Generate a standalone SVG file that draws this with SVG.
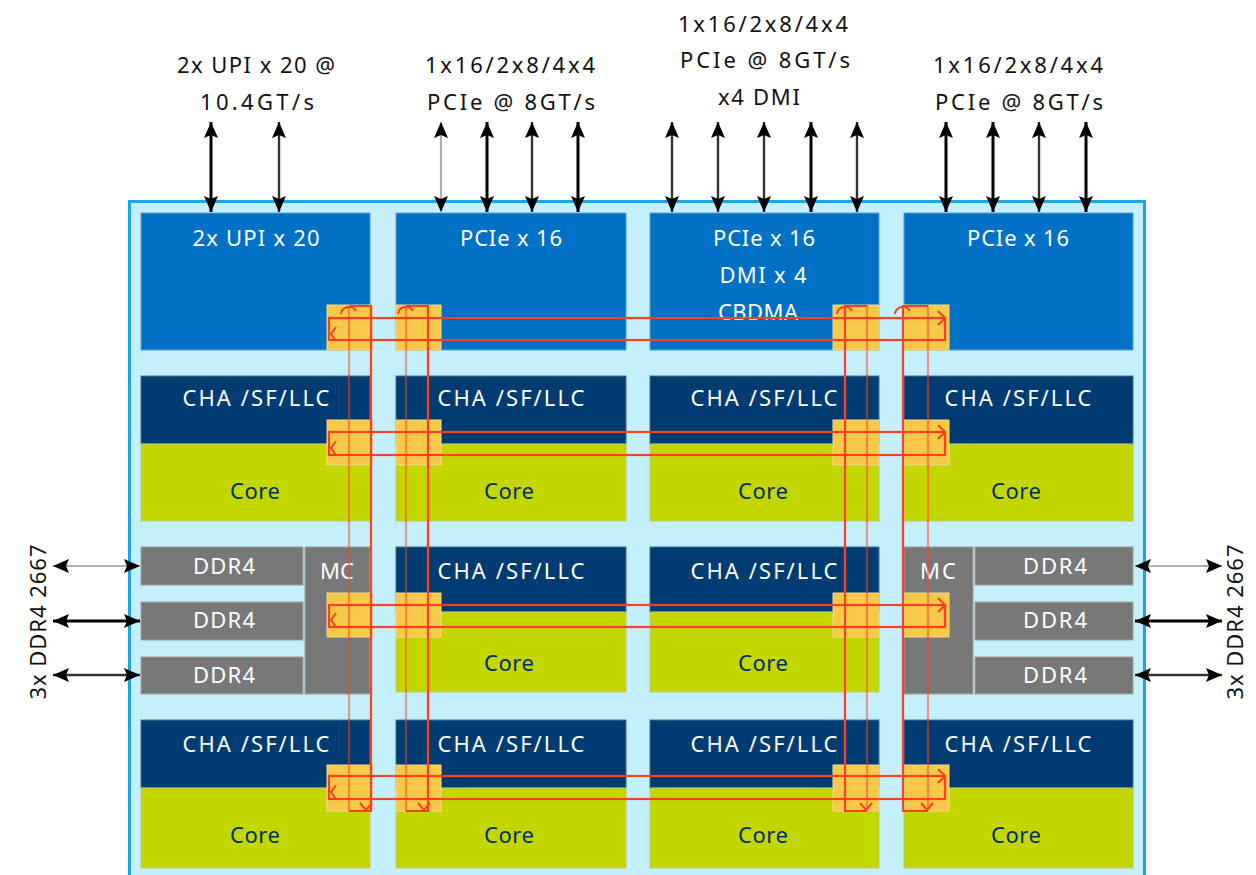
<svg xmlns="http://www.w3.org/2000/svg" width="1256" height="875" viewBox="0 0 1256 875">
<defs>
<marker id="ah" viewBox="0 0 16 14" refX="16" refY="7" markerWidth="16" markerHeight="14" markerUnits="userSpaceOnUse" orient="auto-start-reverse">
<path d="M0,0 L16,7 L0,14 L3,7 z" fill="#000"/>
</marker>
</defs>
<style>
.io{fill:#0071c5;stroke:#5a9fd6;stroke-width:1}
.cha{fill:#003c71;stroke:#4a6f96;stroke-width:1}
.core{fill:#c4d600;stroke:#b8cc70;stroke-width:1}
.gray{fill:#787878;stroke:#a0a0a0;stroke-width:1}
.stop{fill:#f7c948;stroke:#f3d98a;stroke-width:1}
text{font-family:"Noto Sans","Open Sans",sans-serif;text-anchor:middle}
.wt{fill:#ffffff;font-size:22px}
.nt{fill:#002f5f;font-size:22px}
.lab{fill:#111111;font-size:22px}
.ring{fill:none;stroke:#ff3f1f;stroke-width:2.2}
.faint{stroke-opacity:0.5}
.chev{fill:none;stroke:#ff3f1f;stroke-width:2}
.arr{fill:none;stroke:#000;stroke-width:3;marker-start:url(#ah);marker-end:url(#ah)}
.arr2{fill:none;stroke:#333;stroke-width:2.4;marker-start:url(#ah);marker-end:url(#ah)}
.arr3{fill:none;stroke:#b0b0b0;stroke-width:2.2;marker-start:url(#ah);marker-end:url(#ah)}
</style>

<g id="die">
<rect x="129.5" y="201.5" width="1015" height="700" fill="#c4effd" stroke="#1ba5e6" stroke-width="3"/>
</g>

<g id="io-upi">
<rect class="io" x="141" y="213" width="229" height="137"/>
<text class="wt" x="256" y="246" textLength="127" lengthAdjust="spacing">2x UPI x 20</text>
</g>
<g id="io-pcie-a">
<rect class="io" x="396" y="213" width="230" height="137"/>
<text class="wt" x="511" y="246" textLength="102" lengthAdjust="spacing">PCIe x 16</text>
</g>
<g id="io-pcie-dmi">
<rect class="io" x="650" y="213" width="229" height="137"/>
<text class="wt" x="764" y="246" textLength="102" lengthAdjust="spacing">PCIe x 16</text>
<text class="wt" x="763" y="283" textLength="87" lengthAdjust="spacing">DMI x 4</text>
<text class="wt" x="758" y="320" textLength="80" lengthAdjust="spacing">CBDMA</text>
</g>
<g id="io-pcie-b">
<rect class="io" x="904" y="213" width="229" height="137"/>
<text class="wt" x="1018" y="246" textLength="102" lengthAdjust="spacing">PCIe x 16</text>
</g>

<g id="tile-r1c1"><rect class="cha" x="141" y="376" width="229" height="68"/><rect class="core" x="141" y="444" width="229" height="77"/>
<text class="wt" x="256" y="406" textLength="147" lengthAdjust="spacing">CHA /SF/LLC</text><text class="nt" x="255" y="499" textLength="50" lengthAdjust="spacing">Core</text></g>
<g id="tile-r1c2"><rect class="cha" x="396" y="376" width="230" height="68"/><rect class="core" x="396" y="444" width="230" height="77"/>
<text class="wt" x="511" y="406" textLength="147" lengthAdjust="spacing">CHA /SF/LLC</text><text class="nt" x="509" y="499" textLength="50" lengthAdjust="spacing">Core</text></g>
<g id="tile-r1c3"><rect class="cha" x="650" y="376" width="229" height="68"/><rect class="core" x="650" y="444" width="229" height="77"/>
<text class="wt" x="764" y="406" textLength="147" lengthAdjust="spacing">CHA /SF/LLC</text><text class="nt" x="763" y="499" textLength="50" lengthAdjust="spacing">Core</text></g>
<g id="tile-r1c4"><rect class="cha" x="904" y="376" width="229" height="68"/><rect class="core" x="904" y="444" width="229" height="77"/>
<text class="wt" x="1018" y="406" textLength="147" lengthAdjust="spacing">CHA /SF/LLC</text><text class="nt" x="1016" y="499" textLength="50" lengthAdjust="spacing">Core</text></g>

<g id="mc-left">
<rect class="gray" x="305" y="547" width="65" height="147"/>
<rect class="gray" x="141" y="547" width="162" height="38"/>
<rect class="gray" x="141" y="602" width="162" height="38"/>
<rect class="gray" x="141" y="657" width="162" height="37"/>
<text class="wt" x="337" y="579" font-size="21" textLength="34" lengthAdjust="spacing">MC</text>
<text class="wt" x="224" y="574" font-size="21" textLength="62" lengthAdjust="spacing">DDR4</text>
<text class="wt" x="224" y="628" font-size="21" textLength="62" lengthAdjust="spacing">DDR4</text>
<text class="wt" x="224" y="683" font-size="21" textLength="62" lengthAdjust="spacing">DDR4</text>
</g>
<g id="tile-r2c2"><rect class="cha" x="396" y="547" width="230" height="65"/><rect class="core" x="396" y="612" width="230" height="80"/>
<text class="wt" x="511" y="579" textLength="147" lengthAdjust="spacing">CHA /SF/LLC</text><text class="nt" x="509" y="671" textLength="50" lengthAdjust="spacing">Core</text></g>
<g id="tile-r2c3"><rect class="cha" x="650" y="547" width="229" height="65"/><rect class="core" x="650" y="612" width="229" height="80"/>
<text class="wt" x="764" y="579" textLength="147" lengthAdjust="spacing">CHA /SF/LLC</text><text class="nt" x="763" y="671" textLength="50" lengthAdjust="spacing">Core</text></g>
<g id="mc-right">
<rect class="gray" x="904" y="547" width="69" height="147"/>
<rect class="gray" x="975" y="547" width="158" height="38"/>
<rect class="gray" x="975" y="602" width="158" height="38"/>
<rect class="gray" x="975" y="657" width="158" height="37"/>
<text class="wt" x="938" y="579" font-size="21" textLength="36" lengthAdjust="spacing">MC</text>
<text class="wt" x="1055" y="574" font-size="21" textLength="64" lengthAdjust="spacing">DDR4</text>
<text class="wt" x="1055" y="628" font-size="21" textLength="64" lengthAdjust="spacing">DDR4</text>
<text class="wt" x="1055" y="683" font-size="21" textLength="64" lengthAdjust="spacing">DDR4</text>
</g>

<g id="tile-r3c1"><rect class="cha" x="141" y="720" width="229" height="68"/><rect class="core" x="141" y="788" width="229" height="80"/>
<text class="wt" x="256" y="752" textLength="147" lengthAdjust="spacing">CHA /SF/LLC</text><text class="nt" x="255" y="843" textLength="50" lengthAdjust="spacing">Core</text></g>
<g id="tile-r3c2"><rect class="cha" x="396" y="720" width="230" height="68"/><rect class="core" x="396" y="788" width="230" height="80"/>
<text class="wt" x="511" y="752" textLength="147" lengthAdjust="spacing">CHA /SF/LLC</text><text class="nt" x="509" y="843" textLength="50" lengthAdjust="spacing">Core</text></g>
<g id="tile-r3c3"><rect class="cha" x="650" y="720" width="229" height="68"/><rect class="core" x="650" y="788" width="229" height="80"/>
<text class="wt" x="764" y="752" textLength="147" lengthAdjust="spacing">CHA /SF/LLC</text><text class="nt" x="763" y="843" textLength="50" lengthAdjust="spacing">Core</text></g>
<g id="tile-r3c4"><rect class="cha" x="904" y="720" width="229" height="68"/><rect class="core" x="904" y="788" width="229" height="80"/>
<text class="wt" x="1018" y="752" textLength="147" lengthAdjust="spacing">CHA /SF/LLC</text><text class="nt" x="1016" y="843" textLength="50" lengthAdjust="spacing">Core</text></g>

<g id="mesh-stops">
<rect class="stop" x="327" y="305" width="45" height="45"/><rect class="stop" x="396" y="305" width="45" height="45"/><rect class="stop" x="833" y="305" width="46" height="45"/><rect class="stop" x="904" y="305" width="45" height="45"/>
<rect class="stop" x="327" y="420" width="45" height="45"/><rect class="stop" x="396" y="420" width="45" height="45"/><rect class="stop" x="833" y="420" width="46" height="45"/><rect class="stop" x="904" y="420" width="45" height="45"/>
<rect class="stop" x="327" y="593" width="45" height="44"/><rect class="stop" x="396" y="593" width="45" height="44"/><rect class="stop" x="833" y="593" width="46" height="44"/><rect class="stop" x="904" y="593" width="45" height="44"/>
<rect class="stop" x="327" y="765" width="45" height="46"/><rect class="stop" x="396" y="765" width="45" height="46"/><rect class="stop" x="833" y="765" width="46" height="46"/><rect class="stop" x="904" y="765" width="45" height="46"/>
</g>

<g id="labels">
<text class="lab" x="256" y="73" textLength="158" lengthAdjust="spacing">2x UPI x 20 @</text>
<text class="lab" x="257" y="110" textLength="114" lengthAdjust="spacing">10.4GT/s</text>
<text class="lab" x="510" y="73" textLength="170" lengthAdjust="spacing">1x16/2x8/4x4</text>
<text class="lab" x="511" y="110" textLength="168" lengthAdjust="spacing">PCIe @ 8GT/s</text>
<text class="lab" x="763" y="32" textLength="170" lengthAdjust="spacing">1x16/2x8/4x4</text>
<text class="lab" x="765" y="68" textLength="170" lengthAdjust="spacing">PCIe @ 8GT/s</text>
<text class="lab" x="759" y="105" textLength="82" lengthAdjust="spacing">x4 DMI</text>
<text class="lab" x="1018" y="73" textLength="170" lengthAdjust="spacing">1x16/2x8/4x4</text>
<text class="lab" x="1019" y="110" textLength="168" lengthAdjust="spacing">PCIe @ 8GT/s</text>
<text class="lab" x="46" y="622" transform="rotate(-90 46 622)" textLength="155" lengthAdjust="spacing">3x DDR4 2667</text>
<text class="lab" x="1243" y="622" transform="rotate(-90 1243 622)" textLength="155" lengthAdjust="spacing">3x DDR4 2667</text>
</g>

<g id="connectors">
<g id="rings-h">
<rect class="ring" x="329" y="318" width="616" height="22"/>
<rect class="ring" x="329" y="432" width="616" height="23"/>
<rect class="ring" x="329" y="605" width="616" height="22"/>
<rect class="ring" x="329" y="776" width="616" height="23"/>
<path class="chev" d="M938,311 L945,318 L938,325 M938,425 L945,432 L938,439 M938,598 L945,605 L938,612 M938,769 L945,776 L938,783"/>
<path class="chev" d="M336,327 L331,334 L336,341 M336,441 L331,448 L336,455 M336,613 L331,620 L336,627 M336,785 L331,792 L336,799"/>
</g>
<g id="rings-v">
<path class="ring faint" d="M349,306 V811 M406,306 V811 M867,306 V811 M928,306 V811"/>
<path class="ring" d="M349,306 H371 V811 H349 M406,306 H428 V811 H406 M867,306 H845 V811 H867 M928,306 H903 V811 H928"/>
<path class="chev" d="M341,314 A8,8 0 0 1 356,311 M398,314 A8,8 0 0 1 413,311 M837,314 A8,8 0 0 1 852,311 M895,314 A8,8 0 0 1 910,311"/>
<path class="chev" d="M360,803 L366,810 L372,803 M418,803 L424,810 L430,803 M860,803 L866,810 L872,803 M921,803 L927,810 L933,803"/>
</g>
<g id="io-arrows">
<line class="arr" x1="211" y1="122" x2="211" y2="212"/>
<line class="arr2" x1="279" y1="122" x2="279" y2="212"/>
<line class="arr3" x1="441" y1="122" x2="441" y2="212"/>
<line class="arr" x1="487" y1="122" x2="487" y2="212"/>
<line class="arr2" x1="532" y1="122" x2="532" y2="212"/>
<line class="arr" x1="578" y1="122" x2="578" y2="212"/>
<line class="arr2" x1="672" y1="122" x2="672" y2="212"/>
<line class="arr2" x1="718" y1="122" x2="718" y2="212"/>
<line class="arr2" x1="764" y1="122" x2="764" y2="212"/>
<line class="arr" x1="811" y1="122" x2="811" y2="212"/>
<line class="arr2" x1="857" y1="122" x2="857" y2="212"/>
<line class="arr" x1="946" y1="122" x2="946" y2="212"/>
<line class="arr" x1="993" y1="122" x2="993" y2="212"/>
<line class="arr2" x1="1039" y1="122" x2="1039" y2="212"/>
<line class="arr" x1="1086" y1="122" x2="1086" y2="212"/>
<line class="arr3" x1="53" y1="566" x2="140" y2="566"/>
<line class="arr" x1="53" y1="621" x2="140" y2="621"/>
<line class="arr2" x1="53" y1="675" x2="140" y2="675"/>
<line class="arr3" x1="1135" y1="566" x2="1222" y2="566"/>
<line class="arr" x1="1135" y1="621" x2="1222" y2="621"/>
<line class="arr2" x1="1135" y1="675" x2="1222" y2="675"/>
</g>
</g>
</svg>
